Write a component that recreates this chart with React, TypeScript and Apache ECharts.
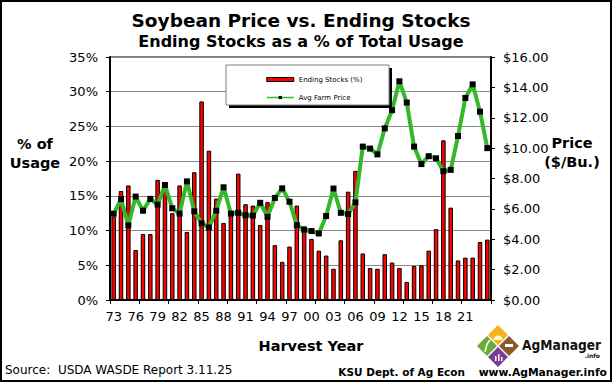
import React, { useEffect, useRef } from 'react';
import * as echarts from 'echarts';

const years = [
  '73', '74', '75', '76', '77', '78', '79', '80', '81', '82', '83', '84', '85',
  '86', '87', '88', '89', '90', '91', '92', '93', '94', '95', '96', '97', '98',
  '99', '00', '01', '02', '03', '04', '05', '06', '07', '08', '09', '10', '11',
  '12', '13', '14', '15', '16', '17', '18', '19', '20', '21', '22', '23', '24',
];

const endingStocksPct = [
  12.0, 15.7, 16.5, 7.2, 9.5, 9.5, 17.3, 16.9, 12.5, 16.5, 9.8, 18.4, 28.6,
  21.5, 14.6, 11.1, 12.5, 18.2, 13.8, 13.6, 10.8, 14.1, 7.9, 5.5, 7.7, 13.6,
  10.6, 8.8, 7.1, 6.4, 4.5, 8.6, 15.6, 18.6, 6.7, 4.6, 4.5, 6.6, 5.4,
  4.6, 2.6, 4.9, 5.0, 7.1, 10.2, 23.0, 13.3, 5.7, 6.1, 6.1, 8.35, 8.7,
];

const avgFarmPrice = [
  5.68, 6.64, 4.92, 6.81, 5.88, 6.66, 6.28, 7.57, 6.04, 5.69, 7.81, 5.84, 5.05,
  4.78, 5.88, 7.42, 5.69, 5.74, 5.58, 5.56, 6.4, 5.48, 6.72, 7.35, 6.47, 4.93,
  4.63, 4.54, 4.38, 5.53, 7.34, 5.74, 5.66, 6.43, 10.1, 9.97, 9.59, 11.3, 12.5,
  14.4, 13.0, 10.1, 8.95, 9.47, 9.33, 8.48, 8.57, 10.8, 13.3, 14.2, 12.4, 10.0,
];

const FONT = '"DejaVu Sans", Verdana, sans-serif';

function diamond(cx: number, cy: number, h: number) {
  return [
    [cx, cy - h],
    [cx + h, cy],
    [cx, cy + h],
    [cx - h, cy],
  ];
}

export default function App() {
  const ref = useRef<HTMLDivElement>(null);

  useEffect(() => {
    if (!ref.current) return;
    const chart = echarts.init(ref.current, null, { renderer: 'svg' });

    const option: any = {
      animation: false,
      backgroundColor: '#ffffff',
      grid: {
        left: 110,
        right: 121,
        top: 57,
        height: 243,
        show: true,
        borderColor: '#000',
        borderWidth: 1,
        containLabel: false,
      },
      legend: {
        orient: 'vertical',
        left: 261,
        top: 71,
        itemWidth: 27,
        itemHeight: 4,
        itemGap: 11,
        z: 30,
        textStyle: { fontFamily: FONT, fontSize: 7, color: '#000' },
        data: [
          {
            name: 'Ending Stocks (%)',
            icon: 'rect',
            itemStyle: { color: '#ff0000', borderColor: '#000', borderWidth: 1 },
          },
          {
            name: 'Avg Farm Price',
            lineStyle: { width: 1.5, color: '#33b82a' },
            itemStyle: { color: '#000' },
          },
        ],
      },
      xAxis: {
        type: 'category',
        data: years,
        boundaryGap: true,
        axisLine: { show: true, lineStyle: { color: '#000', width: 2 } },
        axisTick: {
          show: true,
          interval: 3,
          length: 4,
          lineStyle: { color: '#000', width: 1 },
        },
        axisLabel: {
          interval: (i: number) => i % 3 === 0 && i <= 48,
          fontFamily: FONT,
          fontSize: 13,
          color: '#000',
          margin: 10,
        },
        splitLine: { show: false },
      },
      yAxis: [
        {
          type: 'value',
          min: 0,
          max: 35,
          interval: 5,
          position: 'left',
          axisLine: { show: true, lineStyle: { color: '#000', width: 2 } },
          axisTick: { show: true, length: 4, lineStyle: { color: '#000' } },
          axisLabel: {
            formatter: '{value}%',
            fontFamily: FONT,
            fontSize: 13,
            color: '#000',
            margin: 12,
          },
          splitLine: { show: true, lineStyle: { color: '#8a8a8a', width: 1 } },
        },
        {
          type: 'value',
          min: 0,
          max: 16,
          interval: 2,
          position: 'right',
          axisLine: { show: true, lineStyle: { color: '#000', width: 2 } },
          axisTick: { show: true, length: 4, lineStyle: { color: '#000' } },
          axisLabel: {
            formatter: (v: number) => '$' + v.toFixed(2),
            fontFamily: FONT,
            fontSize: 13,
            color: '#000',
            margin: 12,
          },
          splitLine: { show: false },
        },
      ],
      series: [
        {
          name: 'Ending Stocks (%)',
          type: 'bar',
          yAxisIndex: 0,
          data: endingStocksPct,
          barWidth: 4.5,
          itemStyle: { color: '#ff0000', borderColor: '#000', borderWidth: 1 },
          z: 2,
        },
        {
          name: 'Avg Farm Price',
          type: 'line',
          yAxisIndex: 1,
          data: avgFarmPrice,
          symbol: 'rect',
          symbolSize: 6,
          showAllSymbol: true,
          lineStyle: { color: '#33b82a', width: 4 },
          itemStyle: { color: '#000' },
          z: 3,
        },
      ],
      graphic: [
        {
          type: 'rect',
          z: 50,
          shape: { x: 1, y: 1, width: 610, height: 380 },
          style: { fill: 'none', stroke: '#000', lineWidth: 2 },
        },
        {
          type: 'rect',
          z: 10,
          shape: { x: 229, y: 68, width: 163, height: 40 },
          style: { fill: '#000' },
        },
        {
          type: 'rect',
          z: 11,
          shape: { x: 226, y: 65, width: 163, height: 40 },
          style: { fill: '#fff', stroke: '#808080', lineWidth: 1 },
        },
        {
          type: 'text',
          z: 20,
          style: {
            text: 'Soybean Price vs. Ending Stocks',
            x: 301,
            y: 20,
            align: 'center',
            verticalAlign: 'middle',
            fontFamily: FONT,
            fontWeight: 'bold',
            fontSize: 18.5,
            fill: '#000',
          },
        },
        {
          type: 'text',
          z: 20,
          style: {
            text: 'Ending Stocks as a % of Total Usage',
            x: 301,
            y: 41,
            align: 'center',
            verticalAlign: 'middle',
            fontFamily: FONT,
            fontWeight: 'bold',
            fontSize: 16,
            fill: '#000',
          },
        },
        {
          type: 'text',
          z: 20,
          style: {
            text: '% of\nUsage',
            x: 35,
            y: 153,
            align: 'center',
            verticalAlign: 'middle',
            fontFamily: FONT,
            fontWeight: 'bold',
            fontSize: 14.5,
            lineHeight: 19,
            fill: '#000',
          },
        },
        {
          type: 'text',
          z: 20,
          style: {
            text: 'Price\n($/Bu.)',
            x: 572,
            y: 152,
            align: 'center',
            verticalAlign: 'middle',
            fontFamily: FONT,
            fontWeight: 'bold',
            fontSize: 14.5,
            lineHeight: 19,
            fill: '#000',
          },
        },
        {
          type: 'text',
          z: 20,
          style: {
            text: 'Harvest Year',
            x: 311,
            y: 346,
            align: 'center',
            verticalAlign: 'middle',
            fontFamily: FONT,
            fontWeight: 'bold',
            fontSize: 14.5,
            fill: '#000',
          },
        },
        {
          type: 'text',
          z: 20,
          style: {
            text: 'Source:  USDA WASDE Report 3.11.25',
            x: 5,
            y: 370,
            align: 'left',
            verticalAlign: 'middle',
            fontFamily: FONT,
            fontSize: 12,
            fill: '#000',
          },
        },
        {
          type: 'text',
          z: 20,
          style: {
            text: 'KSU Dept. of Ag Econ',
            x: 465,
            y: 372,
            align: 'right',
            verticalAlign: 'middle',
            fontFamily: FONT,
            fontWeight: 'bold',
            fontSize: 10.5,
            fill: '#000',
          },
        },
        {
          type: 'text',
          z: 20,
          style: {
            text: 'www.AgManager.info',
            x: 607,
            y: 372,
            align: 'right',
            verticalAlign: 'middle',
            fontFamily: FONT,
            fontWeight: 'bold',
            fontSize: 10.75,
            fill: '#000',
          },
        },
        {
          type: 'polygon',
          z: 20,
          shape: { points: diamond(498, 335, 10) },
          style: { fill: '#f5b21c' },
        },
        {
          type: 'polygon',
          z: 20,
          shape: { points: diamond(487, 346, 10) },
          style: { fill: '#6aab3b' },
        },
        {
          type: 'polygon',
          z: 20,
          shape: { points: diamond(509, 346, 10) },
          style: { fill: '#8a5a2b' },
        },
        {
          type: 'polygon',
          z: 20,
          shape: { points: diamond(498, 357, 10) },
          style: { fill: '#7b3c96' },
        },
        {
          type: 'sector',
          z: 21,
          shape: { cx: 498, cy: 340, r0: 0, r: 4.5, startAngle: Math.PI, endAngle: Math.PI * 2 },
          style: { fill: '#fff8d0' },
        },
        {
          type: 'polyline',
          z: 21,
          shape: { points: [[485, 352], [487, 344], [490, 340]] },
          style: { stroke: '#fff', lineWidth: 1.5, fill: 'none' },
        },
        {
          type: 'rect',
          z: 21,
          shape: { x: 505, y: 344, width: 8, height: 3 },
          style: { fill: '#fff' },
        },
        {
          type: 'rect',
          z: 21,
          shape: { x: 495, y: 356, width: 1.5, height: 5 },
          style: { fill: '#fff' },
        },
        {
          type: 'rect',
          z: 21,
          shape: { x: 498, y: 354, width: 1.5, height: 7 },
          style: { fill: '#fff' },
        },
        {
          type: 'rect',
          z: 21,
          shape: { x: 501, y: 357, width: 1.5, height: 4 },
          style: { fill: '#fff' },
        },
        {
          type: 'text',
          z: 20,
          x: 522,
          y: 345,
          scaleX: 0.88,
          style: {
            text: 'AgManager',
            x: 0,
            y: 0,
            align: 'left',
            verticalAlign: 'middle',
            fontFamily: FONT,
            fontWeight: 'bold',
            fontSize: 14,
            fill: '#111',
          },
        },
        {
          type: 'text',
          z: 20,
          style: {
            text: '.info',
            x: 600,
            y: 355,
            align: 'right',
            verticalAlign: 'middle',
            fontFamily: FONT,
            fontWeight: 'bold',
            fontSize: 6,
            fill: '#111',
          },
        },
      ],
    };

    chart.setOption(option);
    return () => chart.dispose();
  }, []);

  return (
    <div
      ref={ref}
      style={{ position: 'fixed', left: 0, top: 0, width: 612, height: 382, background: '#fff' }}
    />
  );
}
